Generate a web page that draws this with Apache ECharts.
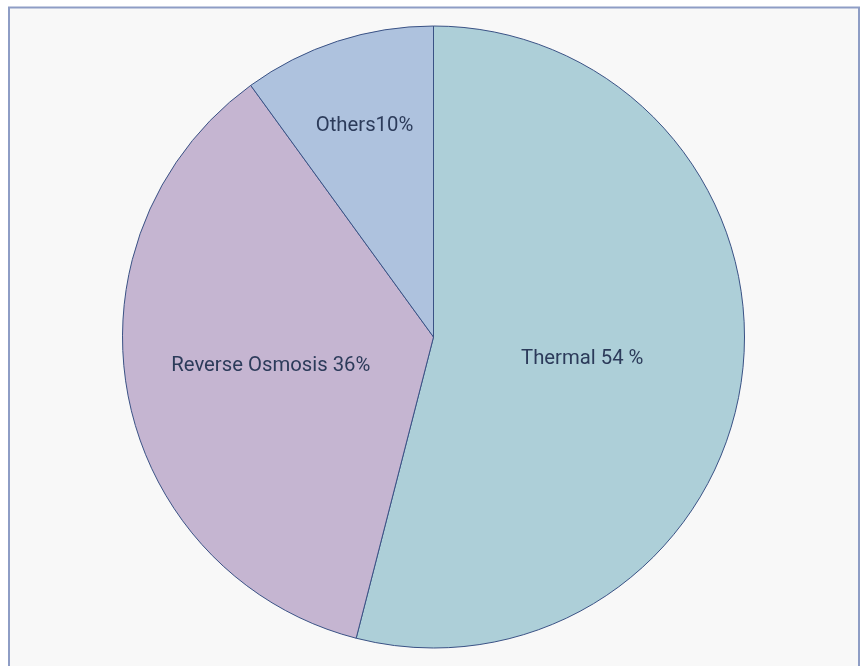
<!DOCTYPE html>
<html>
<head>
<meta charset="utf-8">
<script src="https://cdn.jsdelivr.net/npm/echarts@6/dist/echarts.min.js"></script>
<style>
  html, body { margin: 0; padding: 0; background: #ffffff; }
  #chart { width: 861px; height: 666px; }
</style>
</head>
<body>
<div id="chart"></div>
<script>
// Share of desalination capacity by technology
const categories = ['Thermal', 'Reverse Osmosis', 'Others'];
const shares = [54, 36, 10];
const labelTexts = ['Thermal 54 %', 'Reverse Osmosis 36%', 'Others10%'];

const sliceColors = ['#ADCFD8', '#C5B5D1', '#AEC2DE'];
const labelOffsets = [[-8.5, 2], [-7, -1], [-20, -60]];

const chart = echarts.init(document.getElementById('chart'), null, { renderer: 'canvas' });

chart.setOption({
  backgroundColor: '#ffffff',
  animation: false,
  graphic: [{
    type: 'rect',
    z: -10,
    shape: { x: 9, y: 7.5, width: 850, height: 700 },
    style: { fill: '#F8F8F8', stroke: '#8E9DC5', lineWidth: 2 }
  }],
  series: [{
    type: 'pie',
    center: [433.5, 337],
    radius: 311,
    startAngle: 90,
    clockwise: true,
    avoidLabelOverlap: false,
    itemStyle: { borderColor: '#3A5285', borderWidth: 1 },
    label: {
      show: true,
      position: 'inner',
      fontFamily: 'Roboto',
      fontSize: 20.3,
      color: '#2C3B5A',
      formatter: p => labelTexts[p.dataIndex]
    },
    labelLine: { show: false },
    emphasis: { disabled: true },
    data: categories.map((name, i) => ({
      name: name,
      value: shares[i],
      itemStyle: { color: sliceColors[i] },
      label: { offset: labelOffsets[i] }
    }))
  }]
});
</script>
</body>
</html>
